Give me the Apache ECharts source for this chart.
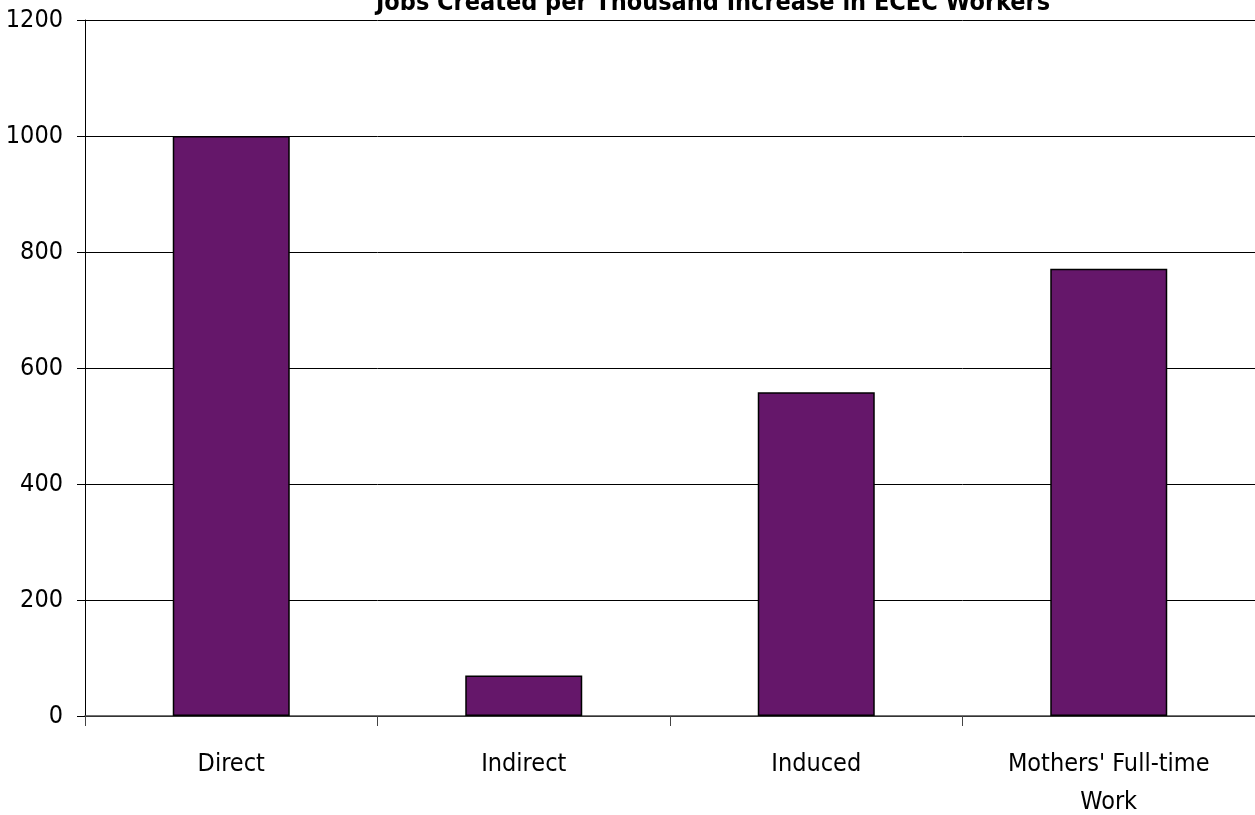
<!DOCTYPE html>
<html>
<head>
<meta charset="utf-8">
<script src="https://cdn.jsdelivr.net/npm/echarts@6/dist/echarts.min.js"></script>
<style>
  html, body { margin: 0; padding: 0; background: #fff; }
  #chart { width: 1255px; height: 815px; }
</style>
</head>
<body>
<div id="chart"></div>
<script>
var categories = ['Direct', 'Indirect', 'Induced', "Mothers' Full-time\nWork"];
var jobs = [1000, 70, 558, 771];
var yTicks = [0, 200, 400, 600, 800, 1000, 1200];

var font = '"DejaVu Sans Condensed", "Liberation Sans Narrow", Roboto, sans-serif';
var chart = echarts.init(document.getElementById('chart'));
var option = {
    animation: false,
    title: {
        text: 'Jobs Created per Thousand Increase in ECEC Workers',
        left: 708,
        textAlign: 'center',
        top: -14,
        textStyle: { fontFamily: font, fontWeight: 'bold', fontSize: 25, color: '#000' }
    },
    grid: { left: 85, right: 0, top: 20, bottom: 99, containLabel: false, outerBoundsMode: 'none' },
    xAxis: {
        type: 'category',
        data: categories,
        axisLine: { lineStyle: { color: '#444', width: 1.5 } },
        axisTick: { show: true, length: 10, lineStyle: { color: '#444' } },
        axisLabel: { fontFamily: font, fontSize: 25, color: '#000', margin: 29, lineHeight: 38 }
    },
    yAxis: {
        type: 'value',
        min: yTicks[0],
        max: yTicks[yTicks.length - 1],
        interval: 200,
        axisLine: { show: true, lineStyle: { color: '#000', width: 1 } },
        axisTick: { show: true, length: 8, lineStyle: { color: '#000' } },
        axisLabel: { fontFamily: font, fontSize: 25, color: '#000', margin: 22, formatter: function (v) { return String(v); } },
        splitLine: { lineStyle: { color: '#000', width: 1 } }
    },
    series: [{
        type: 'bar',
        data: jobs,
        barWidth: '40%',
        itemStyle: { color: '#65176A', borderColor: '#000', borderWidth: 1.5 }
    }]
};
chart.setOption(option);
</script>
</body>
</html>
